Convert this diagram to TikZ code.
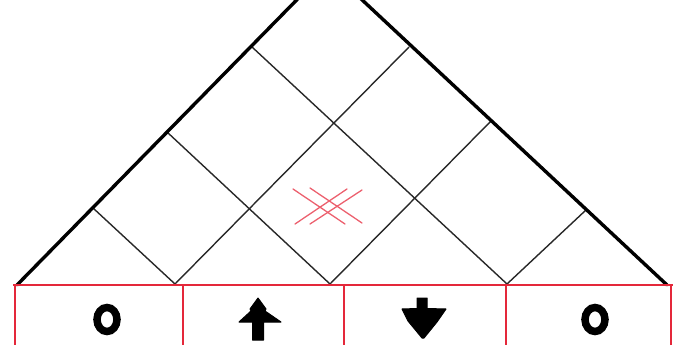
\documentclass[tikz,border=0pt]{standalone}
\definecolor{boxred}{RGB}{228,40,58}
\definecolor{xred}{RGB}{236,96,110}
\definecolor{gridgray}{RGB}{40,40,40}
\begin{document}
\begin{tikzpicture}[x=1pt,y=-1pt,
  side/.style={line width=3.4pt, black, line cap=round},
  gridline/.style={line width=1.4pt, gridgray},
  redline/.style={line width=2.2pt, boxred},
  xmark/.style={line width=1.3pt, xred, line cap=round},
  sym/.style={fill=black, draw=black, line width=1pt, line join=round},
  ring/.style={line width=7.5pt, black}]
\useasboundingbox (0,0) rectangle (680,345);
\clip (0,0) rectangle (680,345);
% triangle corners
\coordinate (apex) at (328,-32);
\coordinate (bl) at (17,285);
\coordinate (br) at (667,285);
% bottom grid points
\coordinate (b1) at (175,284);
\coordinate (b2) at (330,284);
\coordinate (b3) at (507,284);
% points on left side
\coordinate (l1) at (93,208);
\coordinate (l2) at (167,132);
\coordinate (l3) at (252,47);
% points on right side
\coordinate (r1) at (586,210);
\coordinate (r2) at (491,121);
\coordinate (r3) at (409,47);
% grid
\draw[gridline] (b1) -- (l1);
\draw[gridline] (b2) -- (l2);
\draw[gridline] (b3) -- (l3);
\draw[gridline] (b1) -- (r3);
\draw[gridline] (b2) -- (r2);
\draw[gridline] (b3) -- (r1);
% sides
\draw[side] (bl) -- (apex) -- (br);
% red boxes
\coordinate (h0) at (13,285);
\coordinate (h1) at (673,285);
\coordinate (v0) at (15,285);
\coordinate (v1) at (183,285);
\coordinate (v2) at (344,285);
\coordinate (v3) at (506,285);
\coordinate (v4) at (671,285);
\coordinate (w0) at (15,350);
\coordinate (w1) at (183,350);
\coordinate (w2) at (344,350);
\coordinate (w3) at (506,350);
\coordinate (w4) at (671,350);
\draw[redline] (h0) -- (h1);
\foreach \i in {0,...,4}{\draw[redline] (v\i) -- (w\i);}
% red X
\coordinate (xa1) at (293,189);
\coordinate (xa2) at (345,224);
\coordinate (xb1) at (310,188);
\coordinate (xb2) at (362,223);
\coordinate (xc1) at (295,224);
\coordinate (xc2) at (347,189);
\coordinate (xd1) at (310,224);
\coordinate (xd2) at (362,190);
\draw[xmark] (xa1) -- (xa2);
\draw[xmark] (xb1) -- (xb2);
\draw[xmark] (xc1) -- (xc2);
\draw[xmark] (xd1) -- (xd2);
% symbols
\coordinate (o1) at (107,319.5);
\coordinate (o2) at (595,319.5);
\draw[ring] (o1) ellipse [x radius=10, y radius=12];
\draw[ring] (o2) ellipse [x radius=10, y radius=12];
% up arrow
\draw[sym] (258,298) -- (266,309) -- (265,311) -- (281,322) -- (263.5,322)
  -- (263.5,340) -- (252.5,340) -- (252.5,322) -- (239,322) -- (251,311)
  -- (250,309) -- cycle;
% down arrow
\draw[sym] (417,298) -- (427,298) -- (427,308.5) -- (446,309) -- (437,322)
  -- (424,338) -- (422,338) -- (408,321) -- (402,309) -- (417,308.5) -- cycle;
\end{tikzpicture}
\end{document}
